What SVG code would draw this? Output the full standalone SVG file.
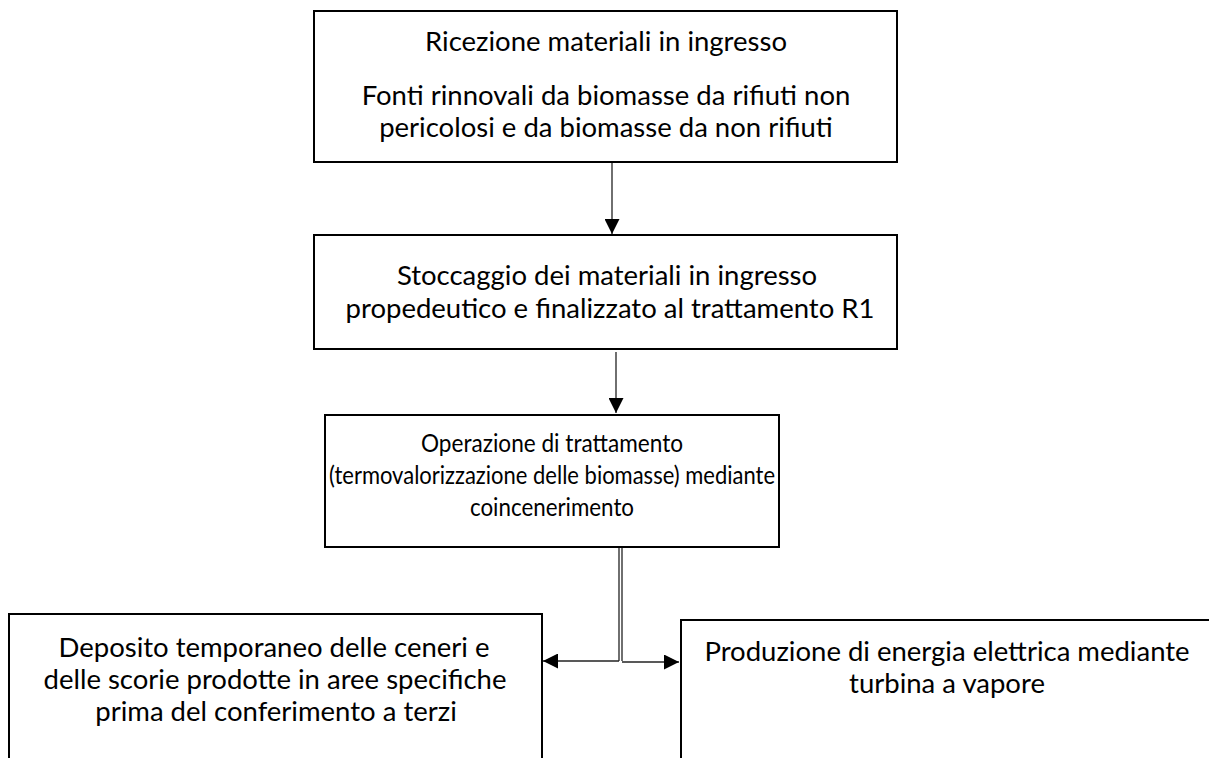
<svg xmlns="http://www.w3.org/2000/svg" width="1209" height="758" viewBox="0 0 1209 758">
<style>
.box{fill:#fff;stroke:#000;stroke-width:2}
.t{font-family:Lato,"Open Sans","Liberation Sans",sans-serif;font-size:22px;fill:#000;text-anchor:middle}
.b{font-size:27.5px}
.m{font-size:25px}
.c{stroke:#222;stroke-width:1.3;fill:none}
</style>
<defs>
<marker id="ah" viewBox="0 0 10 10" refX="10" refY="5" markerWidth="15" markerHeight="15" markerUnits="userSpaceOnUse" orient="auto">
<path d="M0,0 L10,5 L0,10 Z" fill="#000"/>
</marker>
</defs>
<rect width="1209" height="758" fill="#fff"/>
<g id="connectors">
<line class="c" x1="612" y1="163" x2="612" y2="234" marker-end="url(#ah)"/>
<line class="c" x1="616" y1="352" x2="616" y2="413" marker-end="url(#ah)"/>
<line class="c" x1="619" y1="548" x2="619" y2="661"/>
<line class="c" x1="622" y1="548" x2="622" y2="661"/>
<line class="c" x1="619" y1="661" x2="543" y2="661" marker-end="url(#ah)"/>
<line class="c" x1="622" y1="662" x2="679" y2="662" marker-end="url(#ah)"/>
</g>
<g id="n1">
<rect class="box" x="314" y="11" width="583" height="151"/>
<text class="t b" x="606" y="51">Ricezione materiali in ingresso</text>
<text class="t b" x="606" y="105">Fonti rinnovali da biomasse da rifiuti non</text>
<text class="t b" x="606" y="137">pericolosi e da biomasse da non rifiuti</text>
</g>
<g id="n2">
<rect class="box" x="314" y="235" width="583" height="114"/>
<text class="t b" x="607" y="285">Stoccaggio dei materiali in ingresso</text>
<text class="t b" x="610" y="318">propedeutico e finalizzato al trattamento R1</text>
</g>
<g id="n3">
<rect class="box" x="325" y="415" width="454" height="132"/>
<text class="t m" x="552" y="452" textLength="262" lengthAdjust="spacingAndGlyphs">Operazione di trattamento</text>
<text class="t m" x="552" y="484" textLength="446" lengthAdjust="spacingAndGlyphs">(termovalorizzazione delle biomasse) mediante</text>
<text class="t m" x="552" y="516" textLength="164" lengthAdjust="spacingAndGlyphs">coincenerimento</text>
</g>
<g id="n4">
<rect class="box" x="9" y="614" width="533" height="160"/>
<text class="t b" x="274" y="657">Deposito temporaneo delle ceneri e</text>
<text class="t b" x="275" y="689">delle scorie prodotte in aree specifiche</text>
<text class="t b" x="276" y="721">prima del conferimento a terzi</text>
</g>
<g id="n5">
<rect class="box" x="681" y="620" width="540" height="160"/>
<text class="t b" x="947" y="661">Produzione di energia elettrica mediante</text>
<text class="t b" x="947" y="693">turbina a vapore</text>
</g>
</svg>
